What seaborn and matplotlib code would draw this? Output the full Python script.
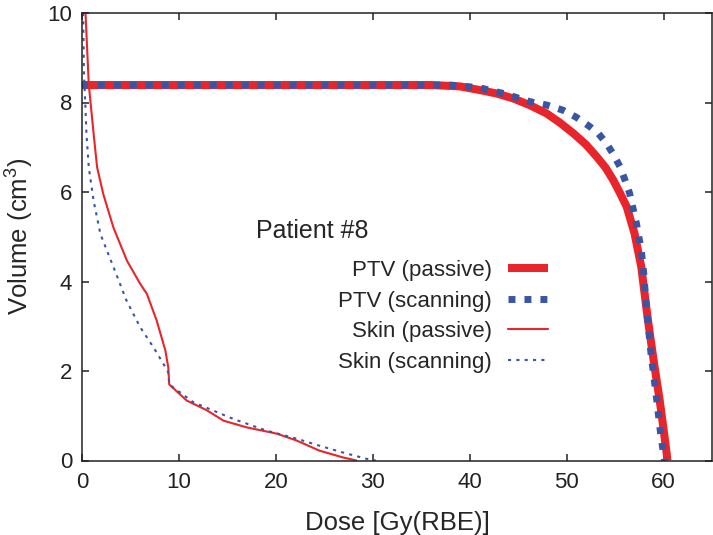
"""Dose-volume histogram, PTV and skin, passive vs scanning (Patient #8)."""

import matplotlib
matplotlib.use('Agg')
import matplotlib.pyplot as plt
import seaborn as sns

# DVH curves
ptv_passive_dose = [0, 36, 39, 41, 42.8, 44.5, 46.2, 47.9, 49.3, 50.7, 52.0, 53.1, 54.0, 54.8,
                    55.5, 56.2, 57.0, 57.7, 58.35, 59.0, 59.6, 60.0, 60.3, 60.4]
ptv_passive_vol = [8.39, 8.39, 8.36, 8.28, 8.2, 8.09, 7.94, 7.76, 7.55, 7.31, 7.06, 6.79, 6.55, 6.27,
                   5.98, 5.67, 5.08, 4.33, 3.2, 2.2, 1.35, 0.7, 0.2, 0]

ptv_scanning_dose = [0, 38, 41, 43.5, 46.2, 48.0, 49.6, 51.0, 52.4, 53.3, 54.1, 54.8, 55.5, 56.0,
                     56.5, 57.2, 57.7, 57.95, 58.2, 58.7, 59.3, 59.7, 60.1]
ptv_scanning_vol = [8.39, 8.39, 8.33, 8.2, 8.02, 7.94, 7.83, 7.67, 7.46, 7.3, 7.09, 6.85, 6.57, 6.28,
                    5.97, 5.3, 4.7, 4.2, 3.5, 2.4, 1.35, 0.6, 0]

skin_passive_dose = [0.36, 0.7, 1.2, 1.56, 2.2, 3.25, 4.65, 6.0, 6.7, 7.7, 8.6, 8.9, 9.0,
                     10.8, 12.9, 14.6, 17.0, 20.1, 22.1, 24.5, 26.9, 28.3]
skin_passive_vol = [10, 8.4, 7.3, 6.55, 5.95, 5.2, 4.46, 3.95, 3.72, 3.13, 2.46, 2.08, 1.7,
                    1.34, 1.12, 0.89, 0.74, 0.6, 0.45, 0.22, 0.07, 0]

skin_scanning_dose = [0.12, 0.19, 0.46, 0.7, 1.2, 1.9, 3.25, 4.6, 6.0, 7.4, 8.4, 8.9, 9.0,
                      11.5, 13.5, 15.6, 19.0, 22.1, 24.5, 26.9, 29.3, 30.3]
skin_scanning_vol = [10, 8.78, 7.3, 6.55, 5.8, 5.06, 4.32, 3.57, 2.98, 2.52, 2.16, 1.97, 1.7,
                     1.3, 1.12, 0.93, 0.67, 0.49, 0.33, 0.18, 0.04, 0]

labels = ['PTV (passive)', 'PTV (scanning)', 'Skin (passive)', 'Skin (scanning)']
x_ticks = [0, 10, 20, 30, 40, 50, 60]
y_ticks = [0, 2, 4, 6, 8, 10]

RED = '#e8252b'
BLUE = '#3a55a4'

sns.set_style('ticks')
plt.rcParams['font.family'] = ['Liberation Sans', 'DejaVu Sans']
plt.rcParams['mathtext.fontset'] = 'custom'
plt.rcParams['mathtext.rm'] = 'Liberation Sans'
plt.rcParams['mathtext.it'] = 'Liberation Sans'

fig = plt.figure(figsize=(7.13, 5.35), dpi=100)
ax = fig.add_axes([82 / 713, 1 - 460.5 / 535, 630 / 713, 447.5 / 535])

common = dict(ax=ax, sort=False, estimator=None)
sns.lineplot(x=ptv_passive_dose, y=ptv_passive_vol, color=RED, linewidth=5.8,
             label=labels[0], solid_capstyle='butt', **common)
sns.lineplot(x=ptv_scanning_dose, y=ptv_scanning_vol, color=BLUE, linewidth=5.0,
             linestyle=(0, (1.0, 1.3)), label=labels[1], dash_capstyle='butt', **common)
sns.lineplot(x=skin_passive_dose, y=skin_passive_vol, color=RED, linewidth=1.5,
             label=labels[2], **common)
sns.lineplot(x=skin_scanning_dose, y=skin_scanning_vol, color=BLUE, linewidth=1.5,
             linestyle=(0, (1.5, 2.5)), label=labels[3], dash_capstyle='butt', **common)

ax.set_xlim(0, 65)
ax.set_ylim(0, 10)
ax.set_xticks(x_ticks)
ax.set_yticks(y_ticks)
ax.tick_params(direction='in', length=5, width=1.1, colors='#222222',
               labelsize=16, top=True, right=True)
ax.tick_params(axis='x', pad=8)
ax.tick_params(axis='y', pad=7)
for side in ax.spines.values():
    side.set_visible(True)
    side.set_linewidth(1.1)
    side.set_color('#222222')
ax.grid(False)

ax.set_xlabel('Dose [Gy(RBE)]', fontsize=18.5, labelpad=13)
ax.set_ylabel('Volume (cm$^3$)', fontsize=18.5, labelpad=8)

leg = ax.legend(loc='upper right', bbox_to_anchor=(548 / 713, 1 - 260 / 535),
                bbox_transform=fig.transFigure, frameon=False, markerfirst=False,
                fontsize=16, handlelength=1.8, handletextpad=0.72,
                labelspacing=0.43, borderpad=0, borderaxespad=0)
for txt in leg.get_texts():
    txt.set_ha('right')
leg._legend_box.align = 'right'

fig.text(256 / 713, 1 - 238 / 535, 'Patient #8', fontsize=18, va='baseline', ha='left')

fig.savefig('out.png', dpi=100)
